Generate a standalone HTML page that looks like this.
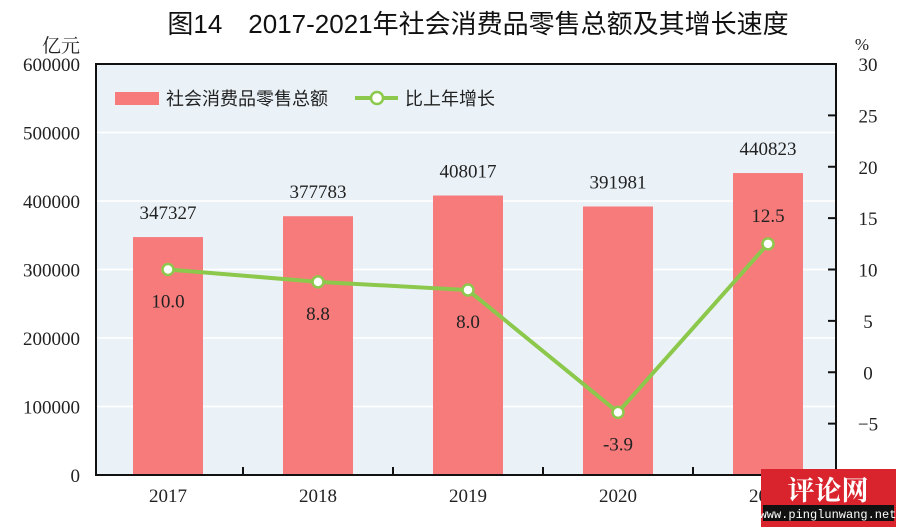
<!DOCTYPE html>
<html><head><meta charset="utf-8"><style>
body{margin:0;background:#fff;}
svg{display:block;font-family:"Liberation Serif","Noto Serif CJK SC",serif;}
</style></head><body>
<svg id="c" width="900" height="530">
<text x="478" y="33" text-anchor="middle" font-size="26" font-family="Liberation Sans, Noto Sans CJK SC, sans-serif" fill="#111">图14　2017-2021年社会消费品零售总额及其增长速度</text>
<text x="80" y="52" text-anchor="end" font-size="19" fill="#222">亿元</text>
<text x="862" y="50" text-anchor="middle" font-size="17" fill="#222">%</text>
<rect x="96" y="64" width="740" height="411" fill="#eaf2f8"/>
<g id="grid"></g><g id="bars"></g><g id="line"></g><g id="axes"></g>
<rect x="96" y="64" width="740" height="411" fill="none" stroke="#111" stroke-width="2"/>
<g>
<rect x="115" y="92" width="44" height="13" fill="#f77b7b"/>
<text x="166" y="105" font-size="18" font-family="Liberation Sans, Noto Sans CJK SC, sans-serif" fill="#222">社会消费品零售总额</text>
<line x1="355" y1="98" x2="398" y2="98" stroke="#8cc84b" stroke-width="4"/>
<circle cx="377" cy="98" r="6" fill="#fff" stroke="#8cc84b" stroke-width="2.5"/>
<text x="405" y="105" font-size="18" font-family="Liberation Sans, Noto Sans CJK SC, sans-serif" fill="#222">比上年增长</text>
</g>
<g>
<rect x="761" y="469" width="135" height="58" fill="#d9232d"/>
<text x="828" y="500" text-anchor="middle" font-size="27" fill="#fff" font-family="Noto Serif CJK SC, serif" font-weight="bold">评论网</text>
<rect x="763" y="505" width="131" height="16" fill="#111"/>
<text x="828" y="518" text-anchor="middle" font-size="12" fill="#fff" font-family="Liberation Mono, monospace">www.pinglunwang.net</text>
</g>
</svg>
<script>
const categories=["2017","2018","2019","2020","2021"];
const salesValues=[347327,377783,408017,391981,440823];
const growthValues=[10.0,8.8,8.0,-3.9,12.5];
const leftTicks=[0,100000,200000,300000,400000,500000,600000];
const rightTicks=[-10,-5,0,5,10,15,20,25,30];
const NS="http://www.w3.org/2000/svg";
const X0=96,X1=836,Y0=475,Y1=64;
const yL=v=>Y0-(v/600000)*(Y0-Y1);
const yR=v=>Y0-((v+10)/40)*(Y0-Y1);
const band=150;
const xC=i=>168+band*i;
function mk(tag,attrs,parent,txt){const e=document.createElementNS(NS,tag);for(const k in attrs)e.setAttribute(k,attrs[k]);if(txt!=null)e.textContent=txt;parent.appendChild(e);return e;}
const g=document.getElementById('grid'),b=document.getElementById('bars'),l=document.getElementById('line'),a=document.getElementById('axes');
leftTicks.forEach(t=>{
  if(t>0&&t<600000){const gl=mk('line',{x1:X0,x2:X1,y1:yL(t),y2:yL(t),stroke:'#fff','stroke-width':1.5},g);
  
  }
  const tx=mk('text',{x:80,y:yL(t)+7,'text-anchor':'end','font-size':19,fill:'#222'},a,String(t));
  
  
});
rightTicks.forEach(t=>{
  mk('line',{x1:X1-8,x2:X1,y1:yR(t),y2:yR(t),stroke:'#111','stroke-width':2},a);
  const tx=mk('text',{x:868,y:yR(t)+7,'text-anchor':'middle','font-size':19,fill:'#222'},a,String(t).replace('-','−'));
  
  
});
categories.forEach((c,i)=>{
  const x=xC(i);
  const r=mk('rect',{x:x-35,y:yL(salesValues[i]),width:70,height:Y0-yL(salesValues[i]),fill:'#f77b7b'},b);
  
  
  const v=mk('text',{x:x,y:yL(salesValues[i])-18,'text-anchor':'middle','font-size':19,fill:'#222'},b,String(salesValues[i]));
  
  
  if(i>0){mk('line',{x1:x-band/2,x2:x-band/2,y1:Y0-8,y2:Y0,stroke:'#111','stroke-width':2},a);}
  const cl=mk('text',{x:x,y:502,'text-anchor':'middle','font-size':19,fill:'#222'},a,c);
  
  
});
const pts=growthValues.map((v,i)=>xC(i)+','+yR(v)).join(' ');
const pl=mk('polyline',{points:pts,fill:'none',stroke:'#8cc84b','stroke-width':4},l);


growthValues.forEach((v,i)=>{
  const c=mk('circle',{cx:xC(i),cy:yR(v),r:5.5,fill:'#fff',stroke:'#8cc84b','stroke-width':2.5},l);
  
  
  const above=i===categories.length-1;
  const t=mk('text',{x:xC(i),y:above?yR(v)-22:yR(v)+38,'text-anchor':'middle','font-size':19,fill:'#222'},l,v.toFixed(1));
  
  
});
</script>
</body></html>
